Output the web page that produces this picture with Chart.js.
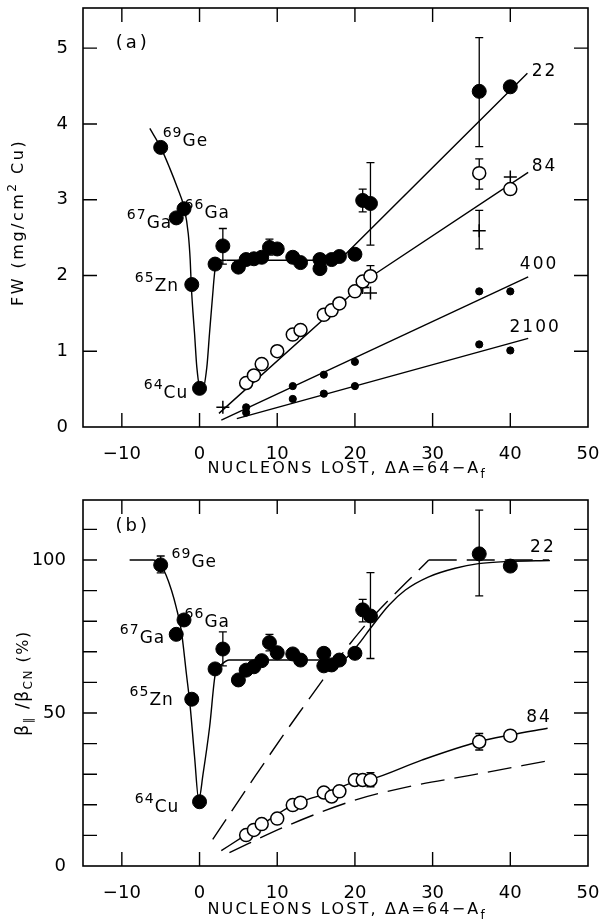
<!DOCTYPE html>
<html><head><meta charset="utf-8">
<script src="https://cdn.jsdelivr.net/npm/chart.js@4.4.0/dist/chart.umd.min.js"></script>
<style>
html,body{margin:0;padding:0;background:#fff;}
#wrap{position:relative;width:603px;height:919px;background:#fff;}
canvas{position:absolute;left:0;}
</style></head><body>
<div id="wrap">
<canvas id="ca" width="603" height="487" style="top:0;width:603px;height:487px"></canvas>
<canvas id="cb" width="603" height="432" style="top:487px;width:603px;height:432px"></canvas>
</div>
<script>
// ---------------- axis ticks ----------------
const xTickVals = [-10, 0, 10, 20, 30, 40, 50];
const xMarkVals = [-10, 0, 10, 20, 30, 40];
const yTickValsA = [0, 1, 2, 3, 4, 5];
const yMarkA = [1, 2, 3, 4, 5];
const yTickValsB = [0, 50, 100];
const yMarkB = [10, 20, 30, 40, 50, 60, 70, 80, 90, 100, 110];

// ---------------- panel (a): FW (mg/cm2 Cu) ----------------
const dA_22a = [-5, -3, -2, -1, 0, 2, 3, 5, 6, 7, 8, 9, 10, 12, 13, 15.5, 15.5, 17, 18, 20, 21, 22, 36, 40];
const fw_22a = [3.69, 2.76, 2.88, 1.88, 0.51, 2.15, 2.39, 2.11, 2.21, 2.22, 2.24, 2.37, 2.35, 2.24, 2.17, 2.21, 2.09, 2.21, 2.25, 2.28, 2.99, 2.95, 4.43, 4.49];
const err22a_x = [3, 9, 21, 22, 36];
const err22a_lo = [2.15, 2.27, 2.84, 2.40, 3.70];
const err22a_hi = [2.62, 2.48, 3.14, 3.49, 5.14];

const dA_84a = [6, 7, 8, 10, 12, 13, 16, 17, 18, 20, 21, 22, 36, 40];
const fw_84a = [0.58, 0.68, 0.83, 1.00, 1.22, 1.28, 1.48, 1.54, 1.63, 1.79, 1.92, 1.99, 3.35, 3.14];
const err84a_x = [22, 36];
const err84a_lo = [1.99, 3.14];
const err84a_hi = [2.13, 3.54];

const dA_84xa = [3, 21, 22, 36, 40];
const fw_84xa = [0.26, 1.84, 1.77, 2.59, 3.30];
const err84xa_x = [36];
const err84xa_lo = [2.35];
const err84xa_hi = [2.86];

const dA_400a = [6, 12, 16, 20, 36, 40];
const fw_400a = [0.26, 0.54, 0.69, 0.86, 1.79, 1.79];
const dA_2100a = [6, 12, 16, 20, 36, 40];
const fw_2100a = [0.19, 0.37, 0.44, 0.54, 1.09, 1.01];

// fitted curves
const fit22a_cx = [-6.4, -5, -3.85, -2.86, -2.0, -1.45, -1.2, -1.07, -0.85, -0.64, -0.35, 0.25, 0.94, 1.28, 1.63, 2.05, 2.8, 3.5];
const fit22a_cy = [3.94, 3.69, 3.42, 3.16, 2.90, 2.55, 2.20, 1.88, 1.52, 1.23, 0.79, 0.44, 0.79, 1.23, 1.67, 2.11, 2.20, 2.20];
const fit22a_lx = [3.5, 18, 42.2];
const fit22a_ly = [2.20, 2.20, 4.67];
const fit84a_x = [2.5, 22, 42.3];
const fit84a_y = [0.18, 1.98, 3.36];
const fit400a_x = [2.8, 42.3];
const fit400a_y = [0.09, 1.98];
const fit2100a_x = [4.8, 42.3];
const fit2100a_y = [0.11, 1.17];

// ---------------- panel (b): beta_par / beta_CN (%) ----------------
const dA_22b = [-5, -3, -2, -1, 0, 2, 3, 5, 6, 7, 8, 9, 10, 12, 13, 16, 16, 17, 18, 20, 21, 22, 36, 40];
const pct_22b = [98.4, 75.7, 80.4, 54.5, 21.0, 64.4, 70.9, 60.8, 64.0, 65.1, 67.1, 73.0, 69.7, 69.3, 67.3, 69.5, 65.4, 65.7, 67.3, 69.5, 83.7, 81.7, 102.0, 98.0];
const err22b_x = [-5, 3, 9, 21, 22, 36];
const err22b_lo = [95.8, 65.4, 70.3, 79.8, 67.8, 88.3];
const err22b_hi = [101.3, 76.5, 75.7, 87.1, 95.9, 116.3];

const dA_84b = [6, 7, 8, 10, 12, 13, 16, 17, 18, 20, 21, 22, 36, 40];
const pct_84b = [10.1, 11.8, 13.7, 15.5, 19.9, 20.7, 24.0, 22.7, 24.4, 28.1, 28.1, 28.1, 40.6, 42.6];
const err84b_x = [22, 36];
const err84b_lo = [25.9, 37.9];
const err84b_hi = [30.5, 43.3];

const fit22b_x = [-9, -6, -5, -4.3, -3.6, -3, -2.35, -1.7, -1.2, -0.64, -0.1, 0.45, 1.3, 2.05, 2.8, 3.8, 18.3, 20.3, 22, 24.4, 26.5, 29.5, 32.9, 35.9, 39.7, 45.1];
const fit22b_y = [100, 100, 98.5, 95, 90, 84.5, 77, 63, 52, 35.7, 21.6, 30, 45.5, 63, 65.8, 67.3, 67.3, 72, 77.7, 85.3, 90.2, 94.5, 97.3, 98.8, 99.5, 99.8];
const dash22b_x = [1.7, 7.2, 12.8, 20.9, 29.5];
const dash22b_y = [8.7, 29.5, 50, 77.4, 100];
const dash22b_fx = [29.5, 45];
const dash22b_fy = [100, 100];
const fit84b_x = [2.8, 5.9, 8.1, 12, 16, 20, 22, 28.6, 35.9, 40, 44.8];
const fit84b_y = [5.0, 10.1, 13.7, 19.9, 23.5, 27.5, 28.3, 34.6, 40.6, 42.8, 45.0];
const dash84b_x = [3.85, 11.5, 20.1, 26.5, 35, 44.7];
const dash84b_y = [4.4, 13.4, 21.6, 25.7, 29.7, 34.3];

// ---------------- helpers ----------------
const FONT = 'DejaVu Sans';
const pts = (xs, ys) => xs.map((x, i) => ({x: x, y: ys[i]}));
const fmt = v => (v < 0 ? '\u2212' + Math.abs(v) : String(v));

function measureRich(ctx, segs, spacing) {
  return segs.map(s => { ctx.font = s[1] + 'px ' + FONT; ctx.letterSpacing = spacing + 'px'; return ctx.measureText(s[0]).width; });
}
function drawRich(ctx, segs, x, y, align, spacing) {
  const w = measureRich(ctx, segs, spacing);
  const total = w.reduce((a, b) => a + b, 0);
  let cx = align === 'center' ? x - total / 2 : (align === 'right' ? x - total : x);
  ctx.textAlign = 'left'; ctx.textBaseline = 'alphabetic';
  segs.forEach((s, i) => { ctx.font = s[1] + 'px ' + FONT; ctx.letterSpacing = spacing + 'px'; ctx.fillText(s[0], cx, y + (s[2] || 0)); cx += w[i]; });
}

const framePlugin = {
  id: 'frame',
  afterDraw(chart, args, o) {
    const ctx = chart.ctx, a = chart.chartArea, xs = chart.scales.x, ys = chart.scales.y;
    ctx.save();
    ctx.strokeStyle = '#000'; ctx.lineWidth = 1.6;
    ctx.strokeRect(a.left, a.top, a.right - a.left, a.bottom - a.top);
    ctx.lineWidth = 1.4;
    ctx.beginPath();
    o.xMarks.forEach(v => { const p = xs.getPixelForValue(v);
      ctx.moveTo(p, a.bottom); ctx.lineTo(p, a.bottom - o.len);
      ctx.moveTo(p, a.top); ctx.lineTo(p, a.top + o.len); });
    o.yMarks.forEach(v => { const p = ys.getPixelForValue(v);
      ctx.moveTo(a.left, p); ctx.lineTo(a.left + o.len, p);
      ctx.moveTo(a.right, p); ctx.lineTo(a.right - o.len, p); });
    ctx.stroke();
    ctx.restore();
  }
};

const errPlugin = {
  id: 'errbars',
  beforeDatasetsDraw(chart, args, o) {
    const ctx = chart.ctx, xs = chart.scales.x, ys = chart.scales.y;
    ctx.save(); ctx.strokeStyle = '#000'; ctx.lineWidth = 1.3;
    o.sets.forEach(s => s.x.forEach((xv, i) => {
      const px = xs.getPixelForValue(xv), p1 = ys.getPixelForValue(s.lo[i]), p2 = ys.getPixelForValue(s.hi[i]);
      ctx.beginPath();
      ctx.moveTo(px, p1); ctx.lineTo(px, p2);
      ctx.moveTo(px - 4, p1); ctx.lineTo(px + 4, p1);
      ctx.moveTo(px - 4, p2); ctx.lineTo(px + 4, p2);
      ctx.stroke();
    }));
    ctx.restore();
  }
};

const textPlugin = {
  id: 'texts',
  afterDraw(chart, args, o) {
    const ctx = chart.ctx, xs = chart.scales.x, ys = chart.scales.y, a = chart.chartArea;
    ctx.save(); ctx.fillStyle = '#000';
    o.items.forEach(it => {
      const px = xs.getPixelForValue(it.x), py = ys.getPixelForValue(it.y);
      drawRich(ctx, it.segs, px, py, it.align || 'left', it.sp || 0);
    });
    const t = o.xTitle;
    drawRich(ctx, t.segs, xs.getPixelForValue(t.x), a.bottom + t.dy, 'center', t.sp);
    const yt = o.yTitle;
    ctx.translate(yt.px, ys.getPixelForValue(yt.y));
    ctx.rotate(-Math.PI / 2);
    drawRich(ctx, yt.segs, 0, 0, 'center', yt.sp);
    ctx.restore();
  }
};

function lineDs(xs, ys, opts) {
  return Object.assign({data: pts(xs, ys), showLine: true, pointRadius: 0, borderColor: '#000', backgroundColor: '#000', borderWidth: 1.4, fill: false, tension: 0}, opts || {});
}
function scatterDs(xs, ys, opts) {
  return Object.assign({data: pts(xs, ys), showLine: false, pointStyle: 'circle', pointRadius: 7, backgroundColor: '#000', borderColor: '#000', borderWidth: 1}, opts || {});
}

function makeOptions(c) {
  return {
    responsive: false, animation: false, devicePixelRatio: 1,
    layout: {padding: {left: 0, right: 15, top: c.top, bottom: 0}},
    plugins: {
      legend: {display: false}, tooltip: {enabled: false},
      frame: {xMarks: xMarkVals, yMarks: c.yMarks, len: 14},
      errbars: {sets: c.err},
      texts: c.texts
    },
    scales: {
      x: {type: 'linear', min: -15, max: 50,
        grid: {display: false}, border: {display: false},
        afterBuildTicks: s => { s.ticks = xTickVals.map(v => ({value: v})); },
        afterFit: s => { s.height = c.xh; s.paddingLeft = 0; s.paddingRight = 0; },
        ticks: {font: {family: FONT, size: 18}, color: '#000', padding: 9, maxRotation: 0, autoSkip: false, callback: v => fmt(v)}},
      y: {type: 'linear', min: c.ymin, max: c.ymax,
        grid: {display: false}, border: {display: false},
        afterBuildTicks: s => { s.ticks = c.yTicks.map(v => ({value: v})); },
        afterFit: s => { s.width = 83; s.paddingTop = 0; s.paddingBottom = 0; },
        ticks: {font: {family: FONT, size: 18}, color: '#000', padding: c.ypad, callback: v => fmt(v)}}
    }
  };
}

const iso = (num, sym, x, y) => ({segs: [[num, 14, -9], [sym, 17, 0]], x: x, y: y, align: 'left', sp: 1});
const xTitleSegs = [['NUCLEONS LOST, \u0394A=64\u2212A', 16, 0], ['f', 12, 5]];

// ---------------- chart (a) ----------------
new Chart(document.getElementById('ca'), {
  type: 'scatter',
  data: {datasets: [
    scatterDs(dA_22a, fw_22a, {pointRadius: 7}),
    scatterDs(dA_84a, fw_84a, {pointRadius: 6.5, backgroundColor: '#fff', borderWidth: 1.5}),
    scatterDs(dA_84xa, fw_84xa, {pointStyle: 'cross', pointRadius: 6.5, borderWidth: 1.5}),
    scatterDs(dA_400a, fw_400a, {pointRadius: 3.6}),
    scatterDs(dA_2100a, fw_2100a, {pointRadius: 3.6}),
    lineDs(fit22a_cx, fit22a_cy, {cubicInterpolationMode: 'monotone'}),
    lineDs(fit22a_lx, fit22a_ly),
    lineDs(fit84a_x, fit84a_y),
    lineDs(fit400a_x, fit400a_y),
    lineDs(fit2100a_x, fit2100a_y)
  ]},
  options: makeOptions({
    top: 7, xh: 60, ymin: 0, ymax: 5.53, yTicks: yTickValsA, yMarks: yMarkA, ypad: 7,
    err: [
      {x: err22a_x, lo: err22a_lo, hi: err22a_hi},
      {x: err84a_x, lo: err84a_lo, hi: err84a_hi},
      {x: err84xa_x, lo: err84xa_lo, hi: err84xa_hi}
    ],
    texts: {
      items: [
        {segs: [['(a)', 18, 0]], x: -8.6, y: 5.0, align: 'center', sp: 3},
        {segs: [['22', 17, 0]], x: 44.4, y: 4.63, align: 'center', sp: 2},
        {segs: [['84', 17, 0]], x: 44.4, y: 3.38, align: 'center', sp: 2},
        {segs: [['400', 17, 0]], x: 43.7, y: 2.08, align: 'center', sp: 2},
        {segs: [['2100', 17, 0]], x: 43.2, y: 1.25, align: 'center', sp: 2},
        iso('69', 'Ge', -4.74, 3.71),
        iso('67', 'Ga', -9.36, 2.63),
        iso('66', 'Ga', -1.92, 2.76),
        iso('65', 'Zn', -8.33, 1.80),
        iso('64', 'Cu', -7.18, 0.38)
      ],
      xTitle: {segs: xTitleSegs, x: 19, dy: 46, sp: 2.2},
      yTitle: {segs: [['FW (mg/cm', 16, 0], ['2', 12, -7], [' Cu)', 16, 0]], px: 23, y: 2.7, sp: 2.5}
    }
  }),
  plugins: [framePlugin, errPlugin, textPlugin]
});

// ---------------- chart (b) ----------------
new Chart(document.getElementById('cb'), {
  type: 'scatter',
  data: {datasets: [
    scatterDs(dA_22b, pct_22b, {pointRadius: 7}),
    scatterDs(dA_84b, pct_84b, {pointRadius: 6.5, backgroundColor: '#fff', borderWidth: 1.5}),
    lineDs(fit22b_x, fit22b_y, {cubicInterpolationMode: 'monotone'}),
    lineDs(dash22b_x, dash22b_y, {cubicInterpolationMode: 'monotone', borderDash: [24, 10]}),
    lineDs(dash22b_fx, dash22b_fy, {borderDash: [28, 10]}),
    lineDs(fit84b_x, fit84b_y, {cubicInterpolationMode: 'monotone'}),
    lineDs(dash84b_x, dash84b_y, {cubicInterpolationMode: 'monotone', borderDash: [24, 10]})
  ]},
  options: makeOptions({
    top: 13, xh: 53, ymin: 0, ymax: 119.6, yTicks: yTickValsB, yMarks: yMarkB, ypad: 9,
    err: [
      {x: err22b_x, lo: err22b_lo, hi: err22b_hi},
      {x: err84b_x, lo: err84b_lo, hi: err84b_hi}
    ],
    texts: {
      items: [
        {segs: [['(b)', 18, 0]], x: -8.6, y: 109.6, align: 'center', sp: 3},
        {segs: [['22', 17, 0]], x: 44.2, y: 102.6, align: 'center', sp: 2},
        {segs: [['84', 17, 0]], x: 43.7, y: 47.1, align: 'center', sp: 2},
        iso('69', 'Ge', -3.6, 97.8),
        iso('66', 'Ga', -1.92, 78.2),
        iso('67', 'Ga', -10.26, 72.8),
        iso('65', 'Zn', -9.0, 52.6),
        iso('64', 'Cu', -8.33, 17.7)
      ],
      xTitle: {segs: xTitleSegs, x: 19, dy: 48, sp: 2.2},
      yTitle: {segs: [['\u03B2', 17, 0], ['\u2225', 12, 4], [' /\u03B2', 17, 0], ['CN', 12, 4], [' (%)', 16, 0]], px: 28, y: 59.8, sp: 1.5}
    }
  }),
  plugins: [framePlugin, errPlugin, textPlugin]
});
</script>
</body></html>
